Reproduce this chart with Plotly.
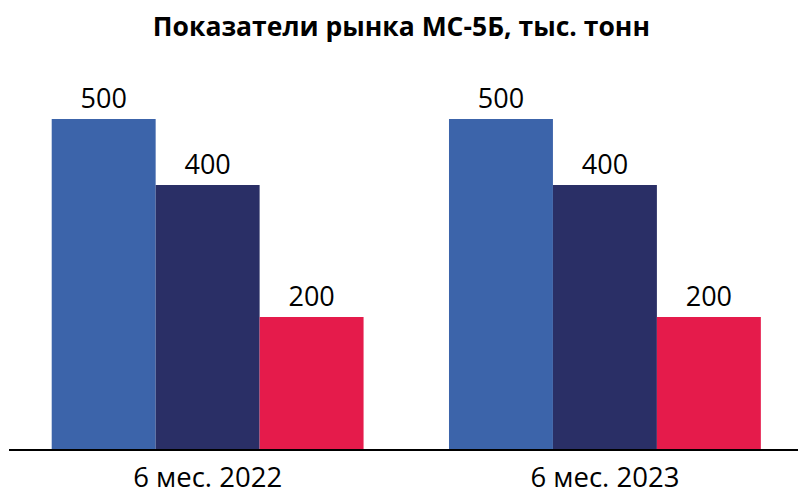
import plotly.graph_objects as go

# Market figures for MS-5B, thousand tonnes
periods = ["6 мес. 2022", "6 мес. 2023"]
series_a = [500, 500]
series_b = [400, 400]
series_c = [200, 200]
colors = ["#3C64AA", "#2A2F66", "#E51B4B"]

FONT = "Open Sans"

fig = go.Figure()
for vals, col in zip([series_a, series_b, series_c], colors):
    fig.add_trace(go.Bar(
        x=periods, y=vals,
        marker=dict(color=col, line=dict(width=0)),
        text=[str(v) for v in vals],
        textposition="outside",
        textfont=dict(family=FONT, size=27, color="black"),
        cliponaxis=False,
        showlegend=False,
    ))

fig.update_layout(
    width=798, height=497,
    margin=dict(l=9, r=0, t=53, b=48, autoexpand=False),
    paper_bgcolor="white", plot_bgcolor="white",
    barmode="group", bargap=0.215, bargroupgap=0,
    title=dict(
        text="<b>Показатели рынка МС-5Б, тыс. тонн</b>",
        x=0.503, xanchor="center", y=0.947, yanchor="middle",
        font=dict(family=FONT, size=26.5, color="black"),
    ),
    xaxis=dict(
        range=[-0.5, 1.486], automargin=False,
        showline=True, linecolor="black", linewidth=2,
        ticks="", showgrid=False, ticklabelstandoff=3,
        tickfont=dict(family=FONT, size=27.5, color="black"),
    ),
    yaxis=dict(range=[0, 600], visible=False, showgrid=False, automargin=False),
    uniformtext=dict(minsize=8),
)

fig.write_html("out.html")
